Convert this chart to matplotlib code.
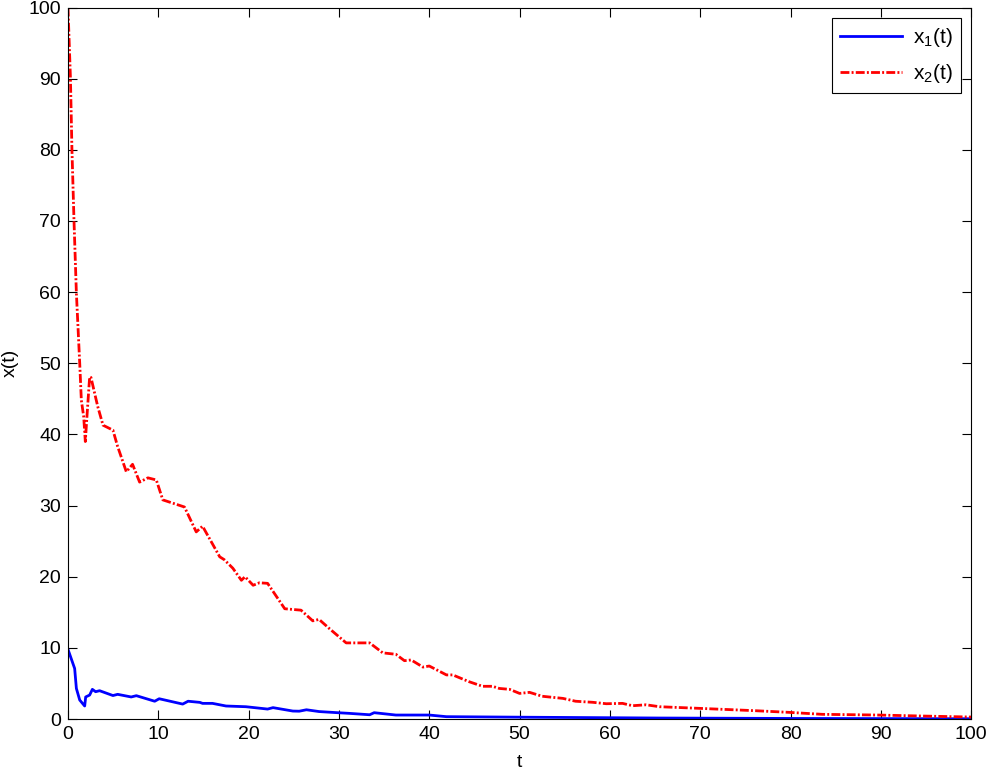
#importing libraries
import numpy as np
import matplotlib
matplotlib.use("Agg")
import matplotlib.pyplot as plt

plt.rcParams['font.family'] = ['Liberation Sans', 'DejaVu Sans']
plt.rcParams['mathtext.default'] = 'regular'

#x2(t)
t2 = [0, 0.27, 0.44, 0.67, 0.93, 1.3, 1.48, 1.74, 1.92, 2.1, 2.4, 2.55, 2.95, 3.3,
      3.88, 4.98, 5.5, 6.46, 7.15, 7.93, 8.85, 9.78, 10.5, 12.9, 14.2, 14.9, 16.8,
      17.3, 18.25, 19.2, 19.6, 20.5, 21.2, 22.1, 24.0, 25.8, 27.1, 27.8, 28.95,
      30.8, 33.4, 34.85, 36.3, 37.25, 38.0, 39.3, 40.0, 41.9, 42.6, 44.4, 45.9,
      47.0, 47.75, 48.9, 50.0, 51.1, 52.5, 54.8, 56.2, 58.1, 59.6, 61.4, 62.5,
      64.0, 65.5, 69.9, 76.1, 79.8, 83.5, 89.7, 94.6, 100]
x2 = [100, 90.2, 80, 69.9, 59.9, 50, 44.8, 42.5, 39.0, 42.5, 48.1, 48, 45.8, 43.9,
      41.3, 40.6, 38.3, 34.75, 35.8, 33.3, 33.9, 33.6, 30.8, 29.8, 26.3, 27.1, 22.8,
      22.4, 21.2, 19.5, 20.0, 18.8, 19.15, 19.07, 15.5, 15.3, 13.8, 14.0, 12.7,
      10.7, 10.7, 9.3, 9.1, 8.2, 8.3, 7.3, 7.45, 6.2, 6.2, 5.25, 4.6,
      4.6, 4.3, 4.17, 3.6, 3.75, 3.2, 2.9, 2.5, 2.35, 2.15, 2.2, 1.87,
      2.0, 1.73, 1.5, 1.17, 0.94, 0.66, 0.56, 0.42, 0.28]

#x1(t)
t1 = [0, 0.74, 0.93, 1.3, 1.85, 1.96, 2.4, 2.7, 3.06, 3.5, 4.98, 5.5, 7.0, 7.57,
      9.6, 10.1, 12.7, 13.3, 14.6, 14.9, 16.0, 17.5, 19.7, 22.1, 22.7, 24.9, 25.6,
      26.4, 27.8, 29.7, 31.1, 33.4, 33.9, 36.3, 40.0, 41.9, 51.1, 65.5, 80, 100]
x1 = [9.8, 7.1, 4.3, 2.67, 1.83, 3.1, 3.37, 4.17, 3.84, 3.98, 3.3, 3.47, 3.1, 3.28,
      2.5, 2.85, 2.1, 2.5, 2.34, 2.2, 2.2, 1.83, 1.73, 1.4, 1.6, 1.12, 1.1,
      1.3, 1.05, 0.9, 0.8, 0.6, 0.89, 0.56, 0.56, 0.33, 0.25, 0.14, 0.08, 0.04]

x_ticks = list(range(0, 101, 10))
y_ticks = list(range(0, 101, 10))

fig = plt.figure(figsize=(9.88, 7.7), dpi=100)
ax = fig.add_axes([0.0688, 0.0662, 0.9142, 0.924])

ax.plot(t1, x1, color='#0000ff', lw=2, label='x$_1$(t)')
ax.plot(t2, x2, color='#ff0000', lw=2, linestyle=(0, (3.2, 0.8, 0.7, 0.8)),
        label='x$_2$(t)')

ax.set_xlim(0, 100)
ax.set_ylim(0, 100)
ax.set_xticks(x_ticks)
ax.set_yticks(y_ticks)
ax.tick_params(direction='in', length=6.5, width=0.8, top=True, right=True,
               labelsize=14, pad=5)
for s in ax.spines.values():
    s.set_linewidth(0.8)

ax.set_xlabel('t', fontsize=14, va='center')
ax.set_ylabel('x(t)', fontsize=14, va='center')
ax.xaxis.set_label_coords(0.5, -0.061)
ax.yaxis.set_label_coords(-0.064, 0.5)

leg = ax.legend(loc='upper right', fontsize=15, fancybox=False, framealpha=1,
                edgecolor='black', handlelength=3.0, borderaxespad=0.5,
                labelspacing=0.6, handletextpad=0.5)
leg.get_frame().set_linewidth(0.8)

fig.savefig('out.png', dpi=100)
